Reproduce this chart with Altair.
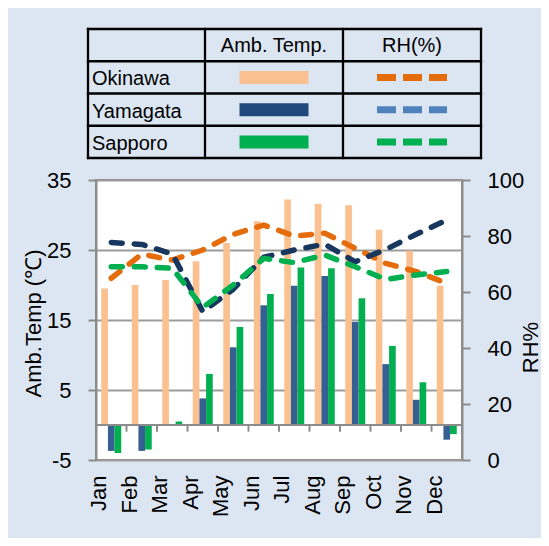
import altair as alt
import pandas as pd

# ---------------- data ----------------
months = ["Jan", "Feb", "Mar", "Apr", "May", "Jun", "Jul", "Aug", "Sep", "Oct", "Nov", "Dec"]
cities = ["Okinawa", "Yamagata", "Sapporo"]

temp_okinawa = [19.5, 20.0, 20.7, 23.4, 26.0, 29.1, 32.2, 31.6, 31.4, 27.9, 24.9, 19.9]
temp_yamagata = [-3.7, -3.7, 0.0, 3.8, 11.1, 17.1, 19.9, 21.3, 14.7, 8.7, 3.6, -2.1]
temp_sapporo = [-4.0, -3.5, 0.5, 7.3, 14.0, 18.7, 22.5, 22.4, 18.1, 11.3, 6.1, -1.3]

rh_okinawa = [64.9, 73.5, 71.4, 75.0, 80.6, 83.9, 80.0, 81.0, 75.6, 70.2, 67.3, 63.1]
rh_yamagata = [77.7, 77.0, 73.6, 53.0, 61.0, 72.4, 75.0, 77.1, 70.8, 75.2, 80.6, 85.7]
rh_sapporo = [69.0, 69.0, 68.5, 54.5, 62.5, 72.0, 70.5, 73.2, 69.0, 64.5, 66.1, 67.3]

header_labels = ["Amb. Temp.", "RH(%)"]

temps = [temp_okinawa, temp_yamagata, temp_sapporo]
rhs = [rh_okinawa, rh_yamagata, rh_sapporo]

rows = []
for i, m in enumerate(months):
    for c, tv, rv in zip(cities, temps, rhs):
        rows.append({"month": m, "city": c, "temp": tv[i], "rh": rv[i]})
df = pd.DataFrame(rows)

# ---------------- style ----------------
FONT = "Liberation Sans"
GRID = "#9c9c9c"
AXIS = "#8c8c8c"
BG = "#DCE6F2"
TEMP_TITLE = "Amb.Temp (℃)"
TEMP_DOMAIN = [-5, 35]

bar_colors = ["#FAC090", "#376092", "#00B050"]
line_colors = ["#E46C0A", "#17375E", "#00B050"]
legend_bar_colors = ["#FAC090", "#1F497D", "#00B050"]
legend_line_colors = ["#E46C0A", "#4F81BD", "#00B050"]

x_scale = alt.Scale(domain=months, paddingInner=0, paddingOuter=0)

x_axis = alt.Axis(
    orient="bottom", domain=False, ticks=False,
    labelAngle=270, labelAlign="right", labelBaseline="middle",
    labelFont=FONT, labelFontSize=22, labelColor="black",
    labelPadding=15, labelOffset=-12, grid=False, title=None,
)
temp_axis = alt.Axis(
    orient="left", values=[-5, 5, 15, 25, 35], grid=True,
    gridColor=GRID, gridWidth=2, domainColor=AXIS, domainWidth=2,
    tickColor=AXIS, tickWidth=2, tickSize=8,
    labelFont=FONT, labelFontSize=22, labelColor="black", labelPadding=17,
    labelExpr="'' + datum.value",
    title=TEMP_TITLE, titleFont=FONT, titleFontSize=22,
    titleFontWeight="normal", titleColor="black",
    titleX=-63, titleY=143, titleAngle=270,
    titleAlign="center", titleBaseline="middle",
)
rh_axis = alt.Axis(
    orient="right", values=[0, 20, 40, 60, 80, 100], grid=False,
    domainColor=AXIS, domainWidth=2, tickColor=AXIS, tickWidth=2, tickSize=8,
    labelFont=FONT, labelFontSize=22, labelColor="black", labelPadding=17,
    title="RH%", titleFont=FONT, titleFontSize=22, titleFontWeight="normal",
    titleColor="black", titleX=68, titleY=167, titleAngle=270,
    titleAlign="center", titleBaseline="middle",
)

bars = alt.Chart(df).mark_bar().encode(
    x=alt.X("month:N", sort=months, scale=x_scale, title=None, axis=x_axis),
    xOffset=alt.XOffset(
        "city:N", sort=cities,
        scale=alt.Scale(domain=cities, paddingInner=0, paddingOuter=0.79),
    ),
    y=alt.Y("temp:Q", scale=alt.Scale(domain=TEMP_DOMAIN, nice=False, zero=False),
            title=TEMP_TITLE, axis=temp_axis),
    color=alt.Color("city:N", scale=alt.Scale(domain=cities, range=bar_colors), legend=None),
)

# category axis line crossing the temperature axis at 0 degC, with boundary ticks
ref_scale = alt.Scale(domain=TEMP_DOMAIN, nice=False, zero=False)
zero_line = alt.Chart(df).transform_calculate(z="0").transform_aggregate(
    z="max(z)"
).mark_rule(color=AXIS, strokeWidth=2).encode(
    y=alt.Y("z:Q", scale=ref_scale, axis=None),
)
cat_ticks = alt.Chart(df).transform_aggregate(
    n="count()", groupby=["month"]
).transform_calculate(z="0", z1="-0.95").mark_rule(
    color=AXIS, strokeWidth=2
).encode(
    x=alt.X("month:N", sort=months, scale=x_scale, title=None, axis=x_axis, bandPosition=0),
    y=alt.Y("z:Q", scale=ref_scale, axis=None),
    y2="z1:Q",
)
refs = alt.layer(zero_line, cat_ticks)

lines = alt.Chart(df).mark_line(
    strokeWidth=5.5, strokeDash=[11, 12], strokeCap="round", strokeJoin="round"
).encode(
    x=alt.X("month:N", sort=months, scale=x_scale, title=None, axis=x_axis),
    y=alt.Y("rh:Q", scale=alt.Scale(domain=[0, 100], nice=False, zero=False),
            title="RH%", axis=rh_axis),
    color=alt.Color("city:N", scale=alt.Scale(domain=cities, range=line_colors), legend=None),
)

main = alt.layer(bars, refs, lines).resolve_scale(y="independent", color="independent")

# ---------------- legend table ----------------
COL_EDGES = [0, 117, 255, 393]
N_ROWS = 4
tx_scale = alt.Scale(domain=[0, 393], range=[-8, 385], nice=False, zero=False)
ty_scale = alt.Scale(domain=[0, N_ROWS], range=[-151, -22], nice=False, zero=False)

hl = pd.DataFrame({"ty": list(range(N_ROWS + 1)), "tx0": 0, "tx1": COL_EDGES[-1]})
vl = pd.DataFrame({"tx": COL_EDGES, "ty0": 0, "ty1": N_ROWS})
mid1 = (COL_EDGES[1] + COL_EDGES[2]) / 2
mid2 = (COL_EDGES[2] + COL_EDGES[3]) / 2
hdr = pd.DataFrame({"label": header_labels, "tx": [mid1, mid2], "ty": [0.5, 0.5]})
city_rows = pd.DataFrame({"city": cities, "ty": [1.5, 2.5, 3.5]})
city_rows["name_x"] = COL_EDGES[0] + 4
city_rows["sw0"] = mid1 - 34.5
city_rows["sw1"] = mid1 + 34.5
city_rows["ln0"] = mid2 - 35
city_rows["ln1"] = mid2 + 35

hlines = alt.Chart(hl).mark_rule(color="black", strokeWidth=2.3, strokeCap="square").encode(
    x=alt.X("tx0:Q", scale=tx_scale, axis=None), x2="tx1:Q",
    y=alt.Y("ty:Q", scale=ty_scale, axis=None),
)
vlines = alt.Chart(vl).mark_rule(color="black", strokeWidth=2.3, strokeCap="square").encode(
    x=alt.X("tx:Q", scale=tx_scale, axis=None),
    y=alt.Y("ty0:Q", scale=ty_scale, axis=None), y2="ty1:Q",
)
hdr_text = alt.Chart(hdr).mark_text(
    font=FONT, fontSize=20, color="black", align="center", baseline="middle", dy=1
).encode(
    x=alt.X("tx:Q", scale=tx_scale, axis=None),
    y=alt.Y("ty:Q", scale=ty_scale, axis=None),
    text="label:N",
)
name_text = alt.Chart(city_rows).mark_text(
    font=FONT, fontSize=20, color="black", align="left", baseline="middle", dy=2
).encode(
    x=alt.X("name_x:Q", scale=tx_scale, axis=None),
    y=alt.Y("ty:Q", scale=ty_scale, axis=None),
    text="city:N",
)
swatch = alt.Chart(city_rows).mark_rule(strokeWidth=13).encode(
    x=alt.X("sw0:Q", scale=tx_scale, axis=None), x2="sw1:Q",
    y=alt.Y("ty:Q", scale=ty_scale, axis=None),
    color=alt.Color("city:N", scale=alt.Scale(domain=cities, range=legend_bar_colors), legend=None),
)
dashes = alt.Chart(city_rows).mark_rule(strokeWidth=7, strokeDash=[19, 7]).encode(
    x=alt.X("ln0:Q", scale=tx_scale, axis=None), x2="ln1:Q",
    y=alt.Y("ty:Q", scale=ty_scale, axis=None),
    color=alt.Color("city:N", scale=alt.Scale(domain=cities, range=legend_line_colors), legend=None),
)

table = alt.layer(swatch, dashes, hlines, vlines, hdr_text, name_text).resolve_scale(color="independent")

chart = alt.layer(main, table).resolve_scale(
    x="independent", y="independent", color="independent"
).properties(
    width=366, height=280,
    autosize=alt.AutoSizeParams(type="none"),
    padding={"left": 88, "top": 172, "right": 79, "bottom": 78},
    background=BG,
).configure_view(
    stroke=AXIS, strokeWidth=2, fill="white"
)

chart.save("out.html", embed_options={"renderer": "svg", "actions": False})
